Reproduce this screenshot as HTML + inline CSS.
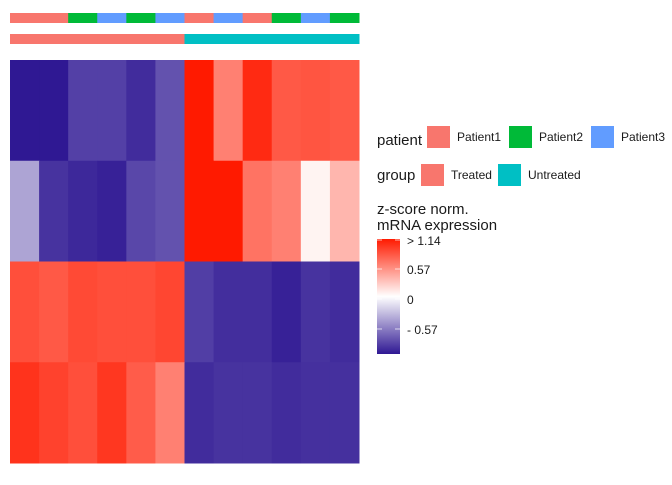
<!DOCTYPE html>
<html><head><meta charset="utf-8"><style>
body{margin:0;background:#fff;font-family:"Liberation Sans",sans-serif;}
svg text{font-family:"Liberation Sans",sans-serif;}
</style></head><body>
<svg id="chart" width="672" height="480" viewBox="0 0 672 480">
<g id="cells"></g>
<g id="annot"></g>
<g>
<text x="377" y="145" font-size="15" fill="#1a1a1a">patient</text>
<rect x="427" y="126" width="23" height="22" fill="#F8766D"/>
<text x="457" y="141" font-size="12" fill="#1a1a1a">Patient1</text>
<rect x="509" y="126" width="23" height="22" fill="#00BA38"/>
<text x="539" y="141" font-size="12" fill="#1a1a1a">Patient2</text>
<rect x="591" y="126" width="23" height="22" fill="#619CFF"/>
<text x="621" y="141" font-size="12" fill="#1a1a1a">Patient3</text>
<text x="377" y="180" font-size="15" fill="#1a1a1a">group</text>
<rect x="421" y="164" width="23" height="22" fill="#F8766D"/>
<text x="451" y="179" font-size="12" fill="#1a1a1a">Treated</text>
<rect x="498" y="164" width="23" height="22" fill="#00BFC4"/>
<text x="528" y="179" font-size="12" fill="#1a1a1a">Untreated</text>
<text x="377" y="214" font-size="15" fill="#1a1a1a">z-score norm.</text>
<text x="377" y="230" font-size="15" fill="#1a1a1a">mRNA expression</text>
<defs><linearGradient id="cg" x1="0" y1="0" x2="0" y2="1">
<stop offset="0" stop-color="#ff1a00"/><stop offset="0.5" stop-color="#ffffff"/><stop offset="1" stop-color="#2f1893"/></linearGradient></defs>
<rect x="377" y="239" width="23" height="115" fill="url(#cg)"/>
<g stroke="#ffffff" stroke-opacity="0.7" stroke-width="1">
<line x1="377" y1="240" x2="382" y2="240"/><line x1="395" y1="240" x2="400" y2="240"/>
<line x1="377" y1="269" x2="382" y2="269"/><line x1="395" y1="269" x2="400" y2="269"/>
<line x1="377" y1="299" x2="382" y2="299"/><line x1="395" y1="299" x2="400" y2="299"/>
<line x1="377" y1="329" x2="382" y2="329"/><line x1="395" y1="329" x2="400" y2="329"/>
</g>
<text x="407" y="245" font-size="12" fill="#1a1a1a">&gt; 1.14</text>
<text x="407" y="274" font-size="12" fill="#1a1a1a">0.57</text>
<text x="407" y="304" font-size="12" fill="#1a1a1a">0</text>
<text x="407" y="334" font-size="12" fill="#1a1a1a">- 0.57</text>
</g>
</svg>
<script>
const patients=["P1","P1","P2","P3","P2","P3","P1","P3","P1","P2","P3","P2"];
const groups=["T","T","T","T","T","T","U","U","U","U","U","U"];
const row1=[-1.04,-1.04,-0.86,-0.86,-0.95,-0.78,1.14,0.59,1.05,0.8,0.82,0.8];
const row2=[-0.41,-0.92,-0.97,-1.0,-0.83,-0.78,1.14,1.14,0.66,0.59,0.04,0.32];
const row3=[0.85,0.8,0.88,0.85,0.85,0.9,-0.87,-0.94,-0.94,-1.0,-0.92,-0.95];
const row4=[1.0,0.92,0.85,0.98,0.78,0.59,-0.95,-0.92,-0.92,-0.95,-0.93,-0.93];
const rows=[row1,row2,row3,row4];
const ns="http://www.w3.org/2000/svg";
const X0=10,X1=359,Y0=60,Y1=463;
const cw=(X1-X0)/patients.length, rh=(Y1-Y0)/rows.length;
const xPos=i=>X0+i*cw, yPos=r=>Y0+r*rh;
function col(v){
  const lo=[47,24,147],hi=[255,26,0],w=[255,255,255];
  let t,c;
  if(v>=0){t=Math.pow(Math.min(v/1.14,1),0.9);c=hi;}else{t=Math.min(-v/1.04,1);c=lo;}
  return "rgb("+w.map((a,k)=>Math.round(a+(c[k]-a)*t)).join(",")+")";
}
const pc={P1:"#F8766D",P2:"#00BA38",P3:"#619CFF"},gc={T:"#F8766D",U:"#00BFC4"};
const cells=document.getElementById("cells"),annot=document.getElementById("annot");
rows.forEach((row,r)=>row.forEach((v,i)=>{
  const e=document.createElementNS(ns,"rect");
  e.setAttribute("x",xPos(i));e.setAttribute("y",yPos(r));
  e.setAttribute("width",cw+0.5);e.setAttribute("height",rh+0.5);
  e.setAttribute("fill",col(v));
  
  
  cells.appendChild(e);
}));
patients.forEach((p,i)=>{
  const e=document.createElementNS(ns,"rect");
  e.setAttribute("x",xPos(i));e.setAttribute("y",13);
  e.setAttribute("width",cw+0.5);e.setAttribute("height",10);
  e.setAttribute("fill",pc[p]);
  
  
  annot.appendChild(e);
  const g=document.createElementNS(ns,"rect");
  g.setAttribute("x",xPos(i));g.setAttribute("y",34);
  g.setAttribute("width",cw+0.5);g.setAttribute("height",10);
  g.setAttribute("fill",gc[groups[i]]);
  
  
  annot.appendChild(g);
});
</script>
</body></html>
